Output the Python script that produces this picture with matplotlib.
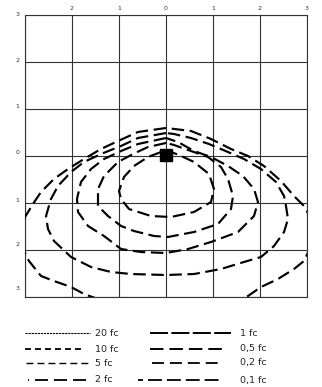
import matplotlib
matplotlib.use("Agg")
import matplotlib.pyplot as plt
import matplotlib.transforms as mtransforms

plt.rcParams['lines.scale_dashes'] = False
plt.rcParams['font.family'] = ['DejaVu Sans']

# ---- data ----
x_ticks = [-3, -2, -1, 0, 1, 2, 3]
x_tick_labels = ['', '2', '1', '0', '1', '2', '3']
y_ticks = [3, 2, 1, 0, -1, -2, -3]
y_tick_labels = ['3', '2', '1', '0', '1', '2', '3']

luminaire_x = [0.0]
luminaire_y = [0.03]

c1_x = [-0.106, -0.383, -0.681, -0.894, -1.0, -0.957, -0.787, -0.319, 0.106, 0.596, 0.957, 1.021, 0.915, 0.596, 0.277, 0.106]
c1_y = [0.085, -0.021, -0.213, -0.447, -0.745, -0.915, -1.128, -1.277, -1.298, -1.191, -0.979, -0.702, -0.383, -0.128, 0.021, 0.085]

c2_x = [0.0, -0.383, -0.702, -1.021, -1.319, -1.447, -1.447, -1.234, -0.957, -0.681, -0.255, 0.043, 0.596, 1.106, 1.383, 1.426, 1.319, 1.170, 0.894, 0.532, 0.170, 0.0]
c2_y = [0.277, 0.191, 0.043, -0.128, -0.426, -0.702, -1.064, -1.277, -1.489, -1.596, -1.702, -1.723, -1.617, -1.447, -1.128, -0.851, -0.489, -0.234, -0.021, 0.106, 0.234, 0.277]

c3_x = [0.0, -0.596, -0.957, -1.319, -1.596, -1.809, -1.894, -1.872, -1.660, -1.319, -0.957, -0.532, 0.0, 0.468, 0.957, 1.532, 1.872, 1.957, 1.872, 1.638, 1.319, 0.957, 0.596, 0.255, 0.0]
c3_y = [0.383, 0.255, 0.106, -0.064, -0.277, -0.553, -0.915, -1.191, -1.489, -1.702, -1.979, -2.043, -2.064, -1.979, -1.830, -1.617, -1.277, -0.979, -0.702, -0.426, -0.213, -0.021, 0.106, 0.298, 0.383]

c4_x = [0.0, -0.596, -0.957, -1.383, -1.745, -2.021, -2.298, -2.447, -2.553, -2.511, -2.383, -2.021, -1.596, -1.170, -0.745, 0.0, 0.596, 1.170, 1.660, 2.021, 2.298, 2.511, 2.596, 2.553, 2.511, 2.340, 2.021, 1.660, 1.319, 0.915, 0.532, 0.170, 0.0]
c4_y = [0.489, 0.383, 0.213, 0.043, -0.128, -0.340, -0.638, -0.915, -1.277, -1.553, -1.809, -2.149, -2.362, -2.468, -2.511, -2.532, -2.511, -2.404, -2.255, -2.149, -1.915, -1.617, -1.340, -1.064, -0.851, -0.553, -0.277, -0.064, 0.085, 0.255, 0.383, 0.468, 0.489]

c5_x = [0.0, -0.596, -1.021, -1.383, -1.745, -2.085, -2.383, -2.660, -2.830, -3.000, -3.085, -3.021, -2.915, -2.660, -2.383, -2.021, -1.745, -1.277, -0.638, 0.0, 0.745, 1.383, 1.745, 2.021, 2.383, 2.723, 2.936, 3.106, 3.128, 3.0, 2.936, 2.723, 2.447, 2.085, 1.745, 1.383, 0.957, 0.532, 0.0]
c5_y = [0.596, 0.511, 0.319, 0.149, -0.064, -0.277, -0.489, -0.766, -1.021, -1.298, -1.660, -2.021, -2.234, -2.553, -2.660, -2.787, -2.936, -3.106, -3.234, -3.277, -3.234, -3.106, -2.979, -2.787, -2.617, -2.404, -2.234, -1.872, -1.511, -1.170, -1.064, -0.851, -0.532, -0.213, 0.0, 0.149, 0.362, 0.532, 0.596]

legend_left = ['20 fc', '10 fc', '5 fc', '2 fc']
legend_right = ['1 fc', '0,5 fc', '0,2 fc', '0,1 fc']

# ---- figure ----
W, H = 322, 387
fig = plt.figure(figsize=(W / 100, H / 100), dpi=100)
ax = fig.add_axes([25 / W, (H - 297) / H, 282 / W, 282 / H])
ax.set_xlim(-3, 3)
ax.set_ylim(-3, 3)

ax.set_xticks(x_ticks)
ax.set_xticklabels(x_tick_labels)
ax.set_yticks(y_ticks)
ax.set_yticklabels([])
ax.xaxis.tick_top()
ax.tick_params(axis='both', length=0, labelsize=4.5, colors='#333333', pad=3)
ax.grid(True, color='#333333', linewidth=0.8)
for s in ax.spines.values():
    s.set_color('#333333')
    s.set_linewidth(0.8)
ax.set_axisbelow(True)

# y labels drawn as text, drifting slightly upward like the reference
label_shift_px = [0, 2, 2, 3, 2, 5, 9]
ytrans = ax.get_yaxis_transform()
for yv, lab, dpx in zip(y_ticks, y_tick_labels, label_shift_px):
    tr = ytrans + mtransforms.ScaledTranslation(0, dpx / 100, fig.dpi_scale_trans)
    ax.text(-0.02, yv, lab, transform=tr, fontsize=4.5, color='#333333',
            ha='right', va='center')

contour_dash = (9.0, 4.0)
for cx, cy in [(c1_x, c1_y), (c2_x, c2_y), (c3_x, c3_y), (c4_x, c4_y), (c5_x, c5_y)]:
    ax.plot(cx, cy, color='black', linewidth=1.55, dashes=contour_dash, zorder=3)

ax.plot(luminaire_x, luminaire_y, marker='s', markersize=8, color='black', linestyle='none', zorder=4)

# ---- legend (drawn in pixel coordinates) ----
lax = fig.add_axes([0, 0, 1, (H - 297) / H])
lax.set_xlim(0, W)
lax.set_ylim(H, 297)
lax.axis('off')

rows_y = [333, 349, 363, 380]
left_styles = [
    dict(lw=0.8, dashes=(1.6, 0.6), x0=25, x1=90),
    dict(lw=1.3, dashes=(4.3, 2.9), x0=25, x1=82),
    dict(lw=1.0, dashes=(5.0, 2.9), x0=26, x1=88),
    dict(lw=1.3, dashes=(0.7, 4.3, 9.4, 4.3, 9.4, 4.3, 9.4, 4.3, 9.4, 4.3), x0=28, x1=90),
]
right_styles = [
    dict(lw=1.4, dashes=(13.0, 2.4), x0=150, x1=231),
    dict(lw=1.4, dashes=(9.7, 4.3), x0=150, x1=222),
    dict(lw=1.3, dashes=(8.6, 4.3), x0=152, x1=223),
    dict(lw=1.3, dashes=(3.6, 3.6, 10.0, 3.6, 10.0, 3.6, 10.0, 3.6, 10.0, 3.6, 10.0, 3.6), x0=138, x1=223),
]
for lab, st, yy in zip(legend_left, left_styles, rows_y):
    lax.plot([st['x0'], st['x1']], [yy, yy], color='black', linewidth=st['lw'], dashes=st['dashes'])
    lax.text(95, yy, lab, fontsize=6.8, va='center', ha='left', color='#222222')
for lab, st, yy in zip(legend_right, right_styles, rows_y):
    lax.plot([st['x0'], st['x1']], [yy, yy], color='black', linewidth=st['lw'], dashes=st['dashes'])
    lax.text(240, yy, lab, fontsize=6.8, va='center', ha='left', color='#222222')

fig.savefig('out.png', dpi=100)
